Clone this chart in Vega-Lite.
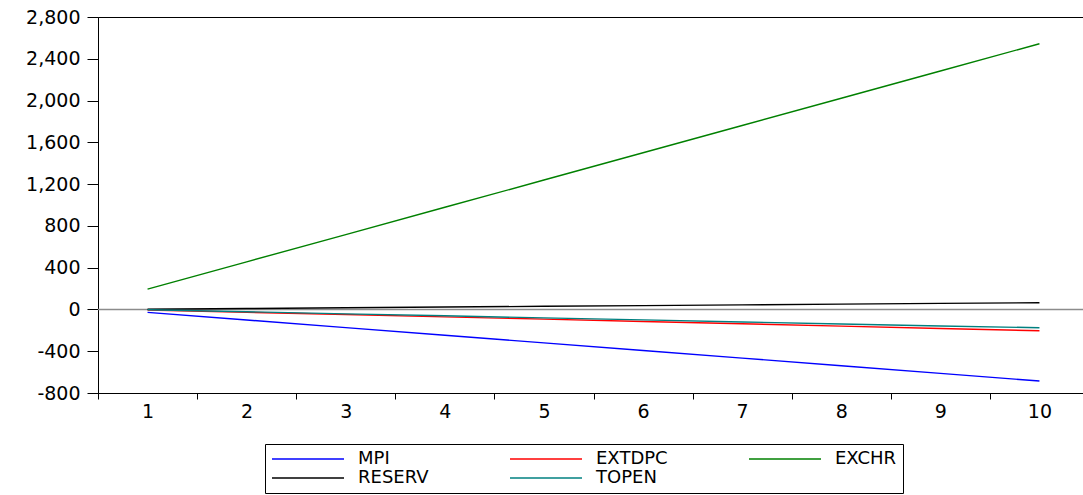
{
  "$schema": "https://vega.github.io/schema/vega-lite/v6.json",
  "width": 985,
  "height": 376,
  "autosize": {"type": "none"},
  "padding": {"left": 98, "top": 17, "right": 0, "bottom": 102},
  "background": "white",
  "config": {
    "font": "DejaVu Sans",
    "view": {"stroke": "black", "strokeWidth": 1},
    "axis": {
      "domainColor": "black",
      "tickColor": "black",
      "labelColor": "black",
      "labelFont": "DejaVu Sans",
      "labelFontSize": 19,
      "grid": false,
      "title": null
    },
    "legend": {
      "orient": "none",
      "direction": "horizontal",
      "legendX": 167,
      "legendY": 427,
      "columns": 3,
      "title": null,
      "symbolType": "M-1,0H8",
      "symbolSize": 256,
      "symbolStrokeWidth": 1.5,
      "labelFont": "DejaVu Sans",
      "labelFontSize": 18,
      "labelColor": "black",
      "labelOffset": 69,
      "columnPadding": 78,
      "rowPadding": 1,
      "padding": 6,
      "strokeColor": "black"
    }
  },
  "layer": [
    {
      "data": {"values": [{"value": 0}]},
      "mark": {"type": "rule", "color": "#8c8c8c", "strokeWidth": 1.5},
      "encoding": {
        "y": {"field": "value", "type": "quantitative"}
      }
    },
    {
      "data": {
        "values": [
          {"period": 1, "series": "MPI", "value": -28},
          {"period": 2, "series": "MPI", "value": -101},
          {"period": 3, "series": "MPI", "value": -174},
          {"period": 4, "series": "MPI", "value": -247},
          {"period": 5, "series": "MPI", "value": -320},
          {"period": 6, "series": "MPI", "value": -393},
          {"period": 7, "series": "MPI", "value": -466},
          {"period": 8, "series": "MPI", "value": -539},
          {"period": 9, "series": "MPI", "value": -612},
          {"period": 10, "series": "MPI", "value": -685},
          {"period": 1, "series": "EXTDPC", "value": -5},
          {"period": 2, "series": "EXTDPC", "value": -27},
          {"period": 3, "series": "EXTDPC", "value": -49},
          {"period": 4, "series": "EXTDPC", "value": -71},
          {"period": 5, "series": "EXTDPC", "value": -93},
          {"period": 6, "series": "EXTDPC", "value": -115},
          {"period": 7, "series": "EXTDPC", "value": -137},
          {"period": 8, "series": "EXTDPC", "value": -160},
          {"period": 9, "series": "EXTDPC", "value": -182},
          {"period": 10, "series": "EXTDPC", "value": -204},
          {"period": 1, "series": "EXCHR", "value": 195},
          {"period": 2, "series": "EXCHR", "value": 456},
          {"period": 3, "series": "EXCHR", "value": 717},
          {"period": 4, "series": "EXCHR", "value": 978},
          {"period": 5, "series": "EXCHR", "value": 1239},
          {"period": 6, "series": "EXCHR", "value": 1500},
          {"period": 7, "series": "EXCHR", "value": 1761},
          {"period": 8, "series": "EXCHR", "value": 2022},
          {"period": 9, "series": "EXCHR", "value": 2283},
          {"period": 10, "series": "EXCHR", "value": 2544},
          {"period": 1, "series": "RESERV", "value": 2},
          {"period": 2, "series": "RESERV", "value": 9},
          {"period": 3, "series": "RESERV", "value": 16},
          {"period": 4, "series": "RESERV", "value": 23},
          {"period": 5, "series": "RESERV", "value": 30},
          {"period": 6, "series": "RESERV", "value": 37},
          {"period": 7, "series": "RESERV", "value": 44},
          {"period": 8, "series": "RESERV", "value": 51},
          {"period": 9, "series": "RESERV", "value": 58},
          {"period": 10, "series": "RESERV", "value": 64},
          {"period": 1, "series": "TOPEN", "value": -3},
          {"period": 2, "series": "TOPEN", "value": -22},
          {"period": 3, "series": "TOPEN", "value": -42},
          {"period": 4, "series": "TOPEN", "value": -61},
          {"period": 5, "series": "TOPEN", "value": -81},
          {"period": 6, "series": "TOPEN", "value": -100},
          {"period": 7, "series": "TOPEN", "value": -120},
          {"period": 8, "series": "TOPEN", "value": -139},
          {"period": 9, "series": "TOPEN", "value": -158},
          {"period": 10, "series": "TOPEN", "value": -175}
        ]
      },
      "mark": {"type": "line", "strokeWidth": 1.4},
      "encoding": {
        "x": {
          "field": "period",
          "type": "ordinal",
          "scale": {"type": "band", "range": [0, 991], "paddingInner": 0, "paddingOuter": 0},
          "axis": {
            "labelAngle": 0,
            "tickBand": "extent",
            "tickSize": 6,
            "labelPadding": 3,
            "labelFlush": false
          }
        },
        "y": {
          "field": "value",
          "type": "quantitative",
          "scale": {"domain": [-800, 2800], "nice": false, "zero": false},
          "axis": {
            "values": [-800, -400, 0, 400, 800, 1200, 1600, 2000, 2400, 2800],
            "format": ",.0f",
            "labelExpr": "replace(datum.label, '−', '-')",
            "tickSize": 11,
            "labelPadding": 7
          }
        },
        "color": {
          "field": "series",
          "type": "nominal",
          "sort": ["MPI", "EXTDPC", "EXCHR", "RESERV", "TOPEN"],
          "scale": {
            "domain": ["MPI", "EXTDPC", "EXCHR", "RESERV", "TOPEN"],
            "range": ["#0000ff", "#ff0000", "#008000", "#000000", "#008080"]
          }
        }
      }
    }
  ]
}
